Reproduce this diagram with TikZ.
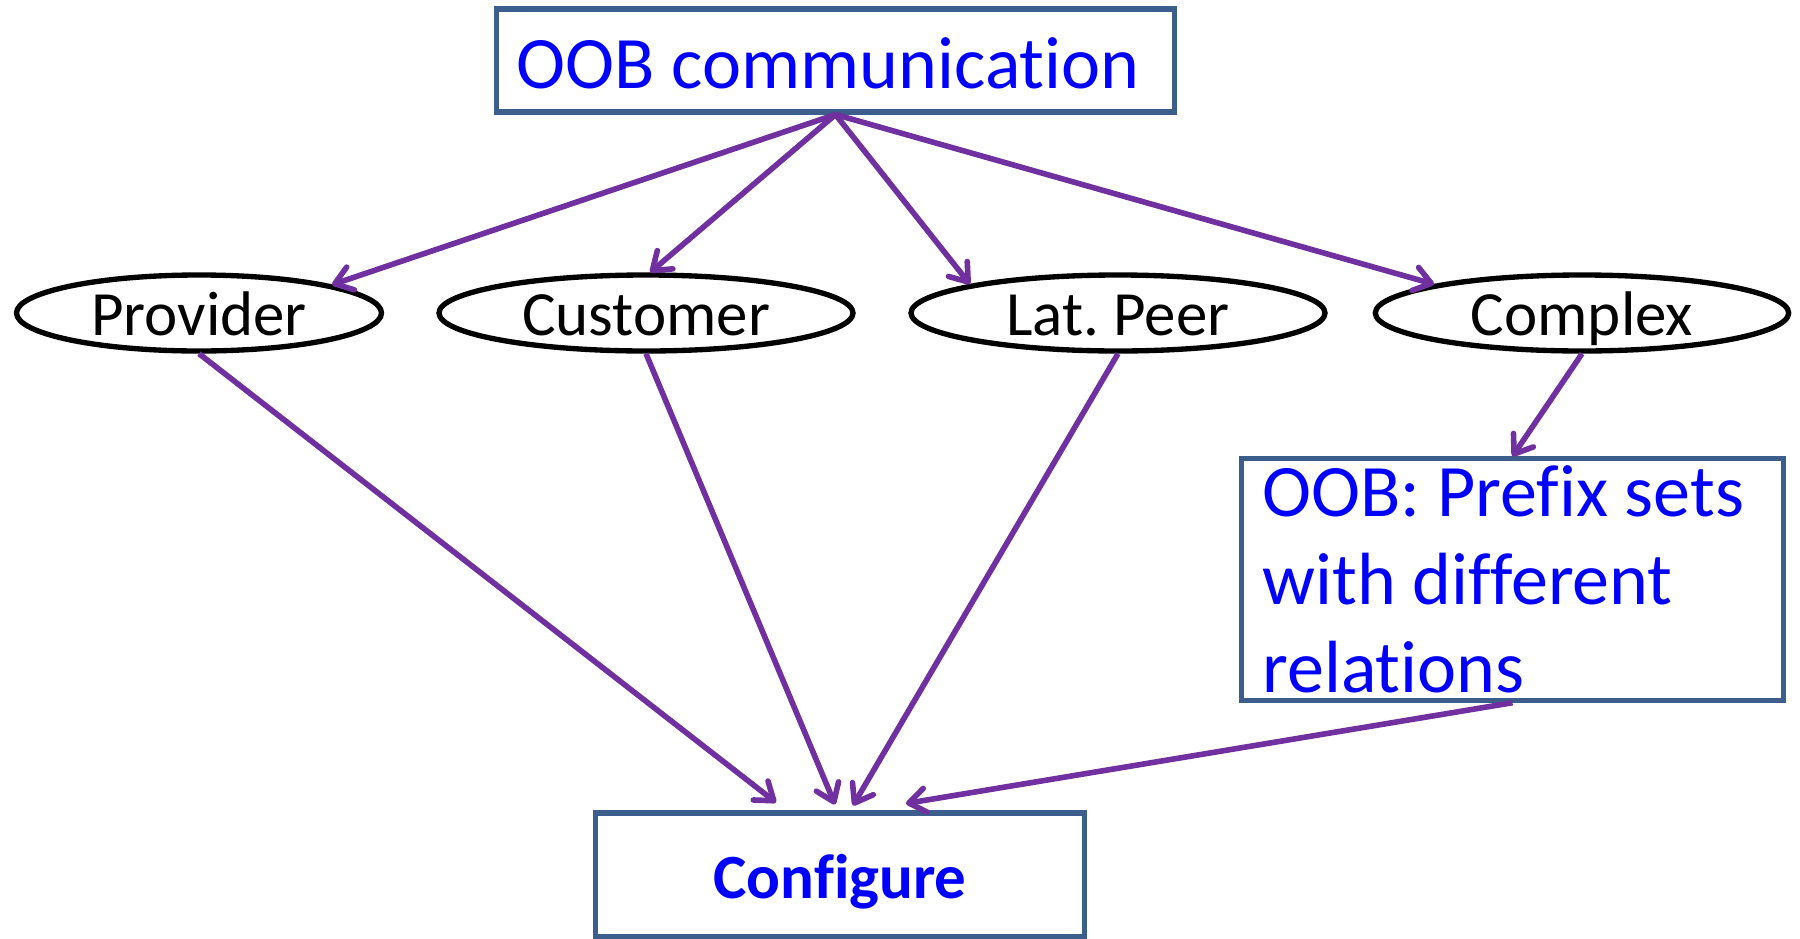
\documentclass[tikz,border=0pt]{standalone}
\usepackage{fontspec}
\setmainfont{Carlito}[Ligatures=NoCommon]
\usetikzlibrary{shapes.geometric,arrows.meta,calc}
\definecolor{oobblue}{RGB}{0,0,255}
\definecolor{boxline}{RGB}{59,94,140}
\definecolor{linkpurple}{RGB}{112,48,160}
\tikzset{
  textbox/.style={draw=boxline,line width=3.8pt,text=oobblue},
  relnode/.style={ellipse,draw=black,line width=4pt,inner sep=0pt,minimum height=57pt,
    font=\fontsize{47.25pt}{56pt}\selectfont,text height=33pt,text depth=0pt},
  link/.style={draw=linkpurple,line width=4.2pt,-{Straight Barb[length=12.5pt,width=18pt,round]}}
}
\begin{document}
\frenchspacing
\begin{tikzpicture}[x=0.75pt,y=0.75pt,yscale=-1,xscale=1]
%set diagram left start at 0, and has height of 939
\useasboundingbox (0,0) rectangle (1800,939);

% Text Node
\node [textbox,minimum width=509pt,minimum height=77.25pt,text width=478pt,inner xsep=15.5pt,align=flush left,
  text height=41.25pt,text depth=0pt,font=\fontsize{55.5pt}{66pt}\selectfont] (oob) at (835.5,60.5) {OOB communication};

%Shape: Ellipse
\node [relnode,minimum width=273.75pt] (prov) at (199,313) {Provider};
%Shape: Ellipse
\node [relnode,minimum width=310.5pt] (cust) at (646,313) {Customer};
%Shape: Ellipse
\node [relnode,minimum width=310.5pt] (lat) at (1118,313) {Lat. Peer};
%Shape: Ellipse
\node [relnode,minimum width=310pt] (cplx) at (1582,313) {Complex};

% Text Node
\node [textbox,minimum width=407pt,minimum height=181pt,text width=375pt,inner xsep=16pt,align=flush left,
  font=\fontsize{55.5pt}{66pt}\selectfont] (pfx) at (1512.5,579.5) {OOB: Prefix sets\\with different\\relations};

% Text Node
\node [textbox,minimum width=367pt,minimum height=93pt,text height=34.5pt,text depth=0pt,
  font=\fontsize{47.25pt}{56pt}\selectfont\bfseries] (conf) at (840,875) {Configure};

%Straight Lines
\draw [link] (oob.south) -- (prov.12);
\draw [link] (oob.south) -- (cust.84);
\draw [link] (oob.south) -- (lat.169);
\draw [link] (oob.south) -- (cplx.169);
\draw [link] (cplx.south) -- (pfx.north);
%Straight Lines
\draw [link] (prov.south) -- ($(conf.north)+(-64,-8)$);
\draw [link] (cust.south) -- ($(conf.north)+(-5,-6)$);
\draw [link] (lat.south) -- ($(conf.north)+(13,-5)$);
\draw [link] (pfx.south) -- ($(conf.north)+(66,-7)$);
\end{tikzpicture}
\end{document}
